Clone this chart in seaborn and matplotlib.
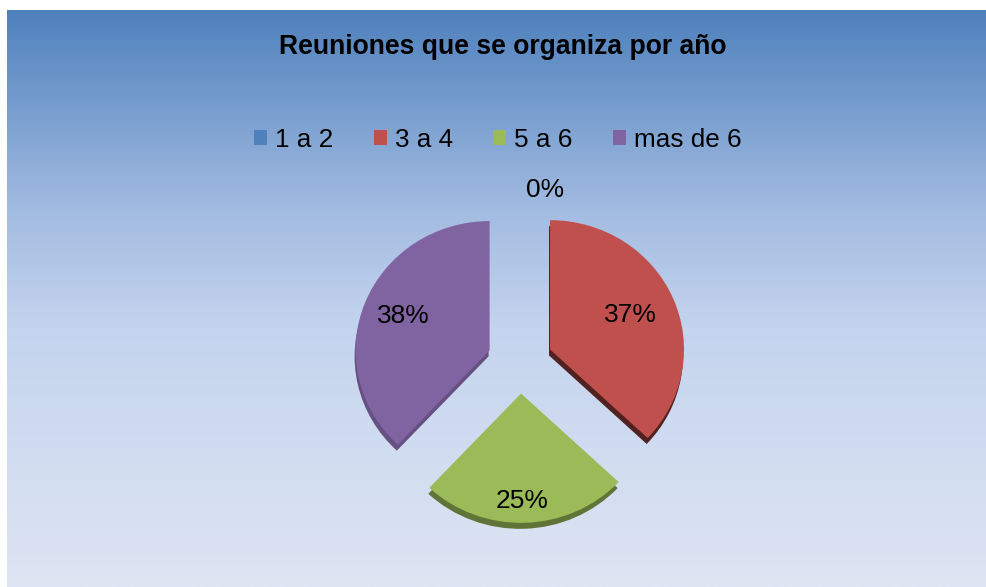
import numpy as np
import matplotlib
matplotlib.use("Agg")
import matplotlib.pyplot as plt
from matplotlib.colors import LinearSegmentedColormap, to_rgb
from matplotlib.patches import Wedge, Rectangle
import seaborn as sns

# ---- data ----
categories = ["1 a 2", "3 a 4", "5 a 6", "mas de 6"]
values = [0, 37, 25, 38]
pct_labels = ["0%", "37%", "25%", "38%"]
title = "Reuniones que se organiza por año"

sns.set_theme(style="white")
plt.rcParams["font.family"] = ["Liberation Sans", "DejaVu Sans"]
plt.rcParams["text.color"] = "black"

palette = sns.color_palette(["#4F81BD", "#C0504D", "#9BBB59", "#8064A2"])
side_shade = [0.6, 0.42, 0.62, 0.8]   # darkness of the 3D side face

W, H = 987, 587
fig = plt.figure(figsize=(W / 100, H / 100), dpi=100)
fig.patch.set_facecolor("white")

# background gradient (chart area)
bg = fig.add_axes([7 / W, 0, 1 - 7 / W + 0.01, 1 - 10 / H])
bg.set_axis_off()
cmap = LinearSegmentedColormap.from_list(
    "bg",
    [(0.0, np.array([79, 129, 189]) / 255),
     (0.35, np.array([163, 188, 225]) / 255),
     (0.55, np.array([196, 212, 238]) / 255),
     (1.0, np.array([222, 229, 243]) / 255)])
grad = np.linspace(0, 1, 256).reshape(-1, 1)
bg.imshow(grad, aspect="auto", cmap=cmap, extent=[0, 1, 0, 1], origin="upper")
bg.set_xlim(0, 1)
bg.set_ylim(0, 1)

# pie axes: x in pixels, y in pixels / squash (slight 3D tilt)
squash = 0.965
ax = fig.add_axes([0, 0, 1, 1])
ax.patch.set_alpha(0)
cx, cy_px, r = 520, 362, 134
cy = (H - cy_px) / squash
explode_px = 32.7

def darker(c, f):
    return tuple(np.array(to_rgb(c)) * f)

wedges, texts = ax.pie(values, colors=palette, startangle=90, counterclock=False,
                       center=(cx, cy), radius=r,
                       explode=[explode_px] * 4,
                       wedgeprops=dict(linewidth=0, zorder=3))

# thickness (3D side face) under each wedge
for w, col, f in zip(wedges, palette, side_shade):
    if w.theta2 - w.theta1 <= 0:
        continue
    sh = Wedge((w.center[0] - 1, w.center[1] - 6 / squash), w.r, w.theta1, w.theta2,
               facecolor=darker(col, f), linewidth=0, zorder=2)
    ax.add_patch(sh)

# percentage labels (distance as fraction of radius, measured in screen px)
label_dist = [1.05, 0.65, 0.80, 0.69]
label_dx = [25, 0, -2, 0]
for w, lab, d, dx in zip(wedges, pct_labels, label_dist, label_dx):
    ang = np.deg2rad((w.theta1 + w.theta2) / 2)
    x = w.center[0] + d * r * np.cos(ang) + dx
    y = w.center[1] + d * r * np.sin(ang) / squash
    ax.text(x, y, lab, ha="center", va="center", fontsize=19, color="black", zorder=5)

ax.set_xlim(0, W)
ax.set_ylim(0, H / squash)
ax.set_aspect("auto")
ax.set_axis_off()

# title
fig.text(503 / W, 1 - 47 / H, title, ha="center", va="center",
         fontsize=19.1, fontweight="bold", color="black")

# legend
handles = [Rectangle((0, 0), 1, 1, facecolor=c, edgecolor="none") for c in palette]
leg = fig.legend(handles, categories, loc="center", bbox_to_anchor=(498 / W, 1 - 140 / H),
                 ncol=4, frameon=False, fontsize=18.8, handlelength=0.5, handleheight=0.5,
                 handletextpad=0.3, columnspacing=1.55, labelcolor="black")

fig.savefig("out.png", dpi=100)
